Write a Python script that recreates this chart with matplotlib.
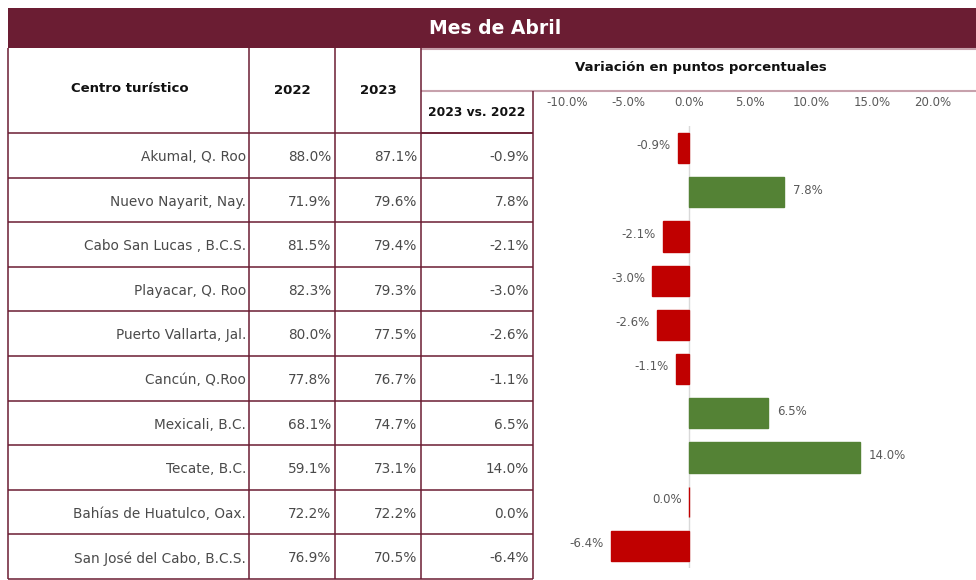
import matplotlib
matplotlib.use("Agg")
import matplotlib.pyplot as plt
from matplotlib.patches import Rectangle

# Datos del cuadro (ocupacion hotelera, mes de abril)
centros = ["Akumal, Q. Roo", "Nuevo Nayarit, Nay.", "Cabo San Lucas , B.C.S.",
           "Playacar, Q. Roo", "Puerto Vallarta, Jal.", "Cancún, Q.Roo",
           "Mexicali, B.C.", "Tecate, B.C.", "Bahías de Huatulco, Oax.",
           "San José del Cabo, B.C.S."]
ocup_2022 = [88.0, 71.9, 81.5, 82.3, 80.0, 77.8, 68.1, 59.1, 72.2, 76.9]
ocup_2023 = [87.1, 79.6, 79.4, 79.3, 77.5, 76.7, 74.7, 73.1, 72.2, 70.5]
variacion = [-0.9, 7.8, -2.1, -3.0, -2.6, -1.1, 6.5, 14.0, 0.0, -6.4]
ticks_x = [-10, -5, 0, 5, 10, 15, 20]

plt.rcParams["font.family"] = ["DejaVu Sans"]

GUINDA = "#6B1D33"
ROSA = "#C7A1AC"
TXT = "#4A4A4A"
ROJO = "#C00000"
VERDE = "#548235"

W, H = 976, 580
fig = plt.figure(figsize=(W / 100, H / 100), dpi=100)

# capa base en pixeles para la tabla
base = fig.add_axes([0, 0, 1, 1])
base.set_xlim(0, W)
base.set_ylim(H, 0)
base.axis("off")

base.add_patch(Rectangle((8, 8), W - 8, 40, facecolor=GUINDA, edgecolor="none"))
base.text(495, 28, "Mes de Abril", color="white", fontsize=13.5, fontweight="bold",
          ha="center", va="center")

def linea(x0, x1, y0, y1, color=GUINDA, lw=1.1):
    base.plot([x0, x1], [y0, y1], color=color, lw=lw, solid_capstyle="butt")

# lineas del encabezado
linea(421, W, 48.5, 48.5, ROSA, 1.5)
linea(421, W, 91, 91, ROSA, 1.5)
y_filas = [133 + 44.6 * i for i in range(11)]
for y in y_filas:
    linea(8, 533, y, y)
linea(8, 8, 48, 579)
for x in (249, 335, 421):
    linea(x, x, 48, 579)
linea(533, 533, 91, 579)
linea(421, 533, 133, 133)

hdr = dict(fontweight="bold", color="#111111", va="center")
base.text(130, 89, "Centro turístico", ha="center", fontsize=9.5, **hdr)
base.text(292, 90, "2022", ha="center", fontsize=9.5, **hdr)
base.text(378, 90, "2023", ha="center", fontsize=9.5, **hdr)
base.text(701, 68, "Variación en puntos porcentuales", ha="center", fontsize=9.5, **hdr)
base.text(477, 113, "2023 vs. 2022", ha="center", fontsize=8.8, **hdr)

for i, nombre in enumerate(centros):
    yc = y_filas[i] + 24
    cel = dict(fontsize=9.8, color=TXT, va="center", ha="right")
    base.text(246, yc, nombre, **cel)
    base.text(331, yc, f"{ocup_2022[i]:.1f}%", **cel)
    base.text(417, yc, f"{ocup_2023[i]:.1f}%", **cel)
    base.text(529, yc, f"{variacion[i]:.1f}%", **cel)

# grafica de barras de variacion
ax = fig.add_axes([534 / W, 1 - 568 / H, (W - 534) / W, 442 / H])
px = 12.2
ax.set_xlim((534 - 689) / px, (W - 689) / px)
ax.set_ylim(len(centros) - 0.5, -0.5)
ypos = list(range(len(centros)))
colores = [VERDE if v > 0 else ROJO for v in variacion]
ax.barh(ypos, variacion, height=0.68, color=colores, edgecolor=colores, lw=1)
ax.axvline(0, color="#D9D9D9", lw=1, zorder=0)
for y, v in zip(ypos, variacion):
    if v > 0:
        ax.text(v + 0.75, y - 0.05, f"{v:.1f}%", ha="left", va="center",
                fontsize=8.5, color="#595959")
    else:
        ax.text(v - 0.6, y - 0.05, f"{v:.1f}%", ha="right", va="center",
                fontsize=8.5, color="#595959")
ax.xaxis.tick_top()
ax.set_xticks(ticks_x)
ax.set_xticklabels([f"{t:.1f}%" for t in ticks_x], color="#595959", fontsize=8.5)
ax.tick_params(axis="x", length=0, pad=12)
ax.set_yticks([])
for s in ax.spines.values():
    s.set_visible(False)
ax.patch.set_alpha(0)

fig.savefig("out.png", dpi=100)
